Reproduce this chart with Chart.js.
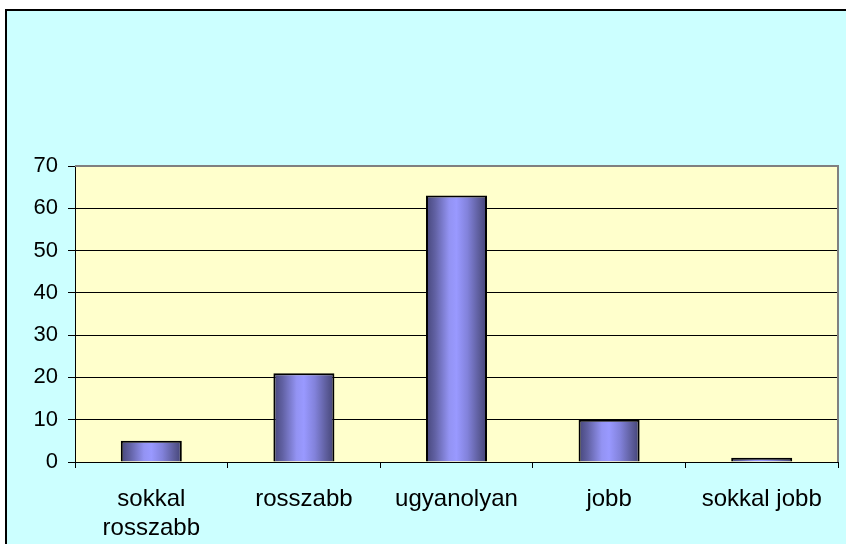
<!DOCTYPE html>
<html lang="hu">
<head>
    <script src="https://cdn.jsdelivr.net/npm/chart.js"></script>
    <meta charset="UTF-8">
    <title>Diagram</title>
    <style>
        body {
            margin: 0;
            padding: 0;
            background-color: #fff;
        }

        #wrap {
            position: absolute;
            left: 0;
            top: 0;
            width: 846px;
            height: 544px;
        }
    </style>
</head>
<body>
    <div id="wrap">
        <canvas id="myChart" width="846" height="544"></canvas>
    </div>

    <script>
        // adatok
        const categories = [['sokkal', 'rosszabb'], 'rosszabb', 'ugyanolyan', 'jobb', 'sokkal jobb'];
        const values = [5, 21, 63, 10, 1];
        const yTicks = [0, 10, 20, 30, 40, 50, 60, 70];

        // háttér: cián keret + sárga rajzterület
        const backgroundPlugin = {
            id: 'backgroundPlugin',
            beforeDraw(chart) {
                const ctx = chart.ctx;
                const area = chart.chartArea;
                ctx.save();
                ctx.fillStyle = '#fff';
                ctx.fillRect(0, 0, chart.width, chart.height);
                ctx.fillStyle = '#ccffff';
                ctx.fillRect(6, 10, chart.width - 6, chart.height - 10);
                ctx.fillStyle = '#000';
                ctx.fillRect(5, 9, chart.width - 5, 2);
                ctx.fillRect(5, 9, 2, chart.height - 9);
                ctx.fillStyle = '#ffffcc';
                ctx.fillRect(area.left, area.top, area.right - area.left, area.bottom - area.top);
                ctx.restore();
            },
            beforeDatasetsDraw(chart) {
                const ctx = chart.ctx;
                const area = chart.chartArea;
                ctx.save();
                ctx.strokeStyle = '#808080';
                ctx.lineWidth = 2;
                ctx.beginPath();
                ctx.moveTo(area.left, area.top);
                ctx.lineTo(area.right, area.top);
                ctx.lineTo(area.right, area.bottom);
                ctx.stroke();
                ctx.restore();
            }
        };

        // henger-szerű színátmenet az oszlopokra
        function barGradient(context) {
            const chart = context.chart;
            const xScale = chart.scales.x;
            if (!chart.chartArea || !xScale) {
                return '#9999ff';
            }
            const center = xScale.getPixelForValue(context.dataIndex);
            const half = (chart.chartArea.right - chart.chartArea.left) / categories.length * 0.4 / 2;
            const g = chart.ctx.createLinearGradient(center - half, 0, center + half, 0);
            g.addColorStop(0, '#46467a');
            g.addColorStop(0.15, '#6161a3');
            g.addColorStop(0.38, '#9393f3');
            g.addColorStop(0.5, '#9999ff');
            g.addColorStop(0.68, '#8282db');
            g.addColorStop(0.88, '#5b5b98');
            g.addColorStop(1, '#434376');
            return g;
        }

        const ctx = document.getElementById('myChart').getContext('2d');
        const chart = new Chart(ctx, {
            type: 'bar',
            data: {
                labels: categories,
                datasets: [{
                    data: values,
                    backgroundColor: barGradient,
                    borderColor: '#000',
                    borderWidth: 2,
                    categoryPercentage: 1,
                    barPercentage: 0.4
                }]
            },
            options: {
                responsive: false,
                animation: false,
                layout: {
                    padding: { top: 166, right: 8, left: 0, bottom: 0 }
                },
                plugins: {
                    legend: { display: false },
                    tooltip: { enabled: false }
                },
                scales: {
                    x: {
                        afterFit(scale) { scale.height = 82; },
                        grid: {
                            drawOnChartArea: false,
                            drawTicks: true,
                            tickLength: 6,
                            color: '#000'
                        },
                        border: { color: '#000', width: 1 },
                        ticks: {
                            color: '#000',
                            padding: 17,
                            maxRotation: 0,
                            autoSkip: false,
                            font: { family: '"Liberation Sans", Arial, sans-serif', size: 24, lineHeight: 1.2 }
                        }
                    },
                    y: {
                        min: 0,
                        max: 70,
                        afterFit(scale) { scale.width = 75; },
                        afterBuildTicks(scale) {
                            scale.ticks = yTicks.map(v => ({ value: v }));
                        },
                        grid: {
                            color: '#000',
                            lineWidth: 1,
                            tickLength: 7
                        },
                        border: { color: '#000', width: 1 },
                        ticks: {
                            color: '#000',
                            padding: 10,
                            font: { family: '"Liberation Sans", Arial, sans-serif', size: 22 }
                        }
                    }
                }
            },
            plugins: [backgroundPlugin]
        });
    </script>
</body>
</html>
